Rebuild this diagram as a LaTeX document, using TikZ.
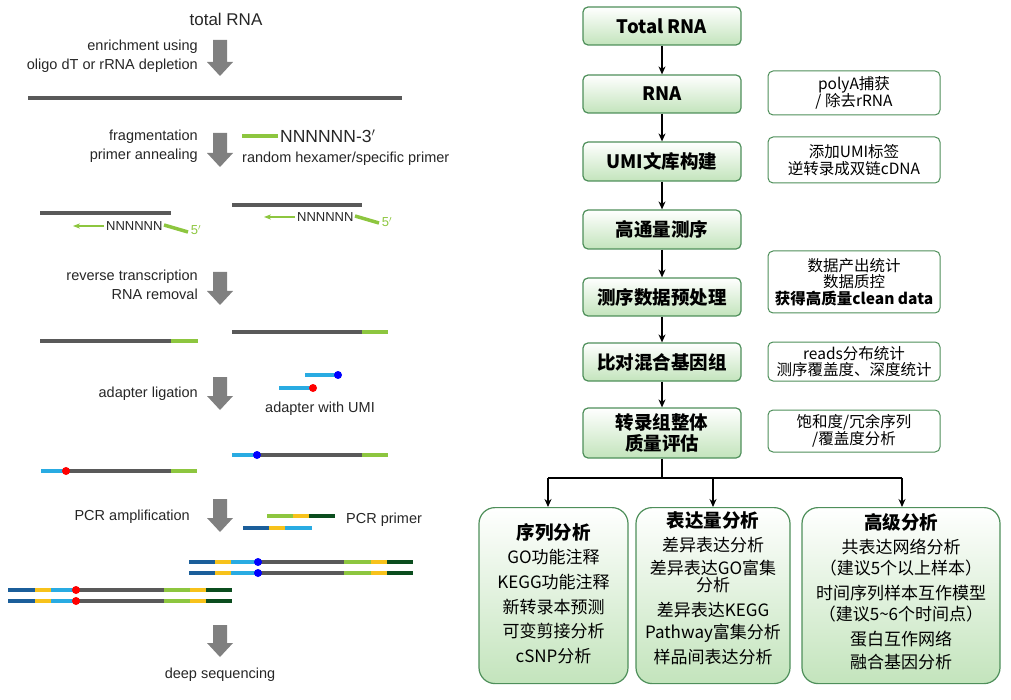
\documentclass[tikz,border=0pt]{standalone}
\usepackage{fontspec}
\setmainfont{Liberation Sans}
\newfontfamily\cjk{Noto Sans CJK SC}
\usetikzlibrary{arrows.meta,calc}
\definecolor{dgray}{HTML}{595959}
\definecolor{agray}{HTML}{808080}
\definecolor{lgreen}{HTML}{8DC63F}
\definecolor{cyanb}{HTML}{29ABE2}
\definecolor{navyb}{HTML}{1B5E9A}
\definecolor{yel}{HTML}{F7C21B}
\definecolor{dgreen}{HTML}{0B4D1E}
\definecolor{bord}{HTML}{4E8F5A}
\definecolor{gbot}{HTML}{C3E4BC}
\newcommand{\garrow}[3]{\fill[agray] (#1-7,#2) -- (#1+7,#2) -- (#1+7,#3-14) -- (#1+13,#3-14) -- (#1,#3) -- (#1-13,#3-14) -- (#1-7,#3-14) -- cycle;}
\begin{document}
\begin{tikzpicture}[x=1pt,y=-1pt,
  lt/.style={font=\fontsize{14.5}{17}\selectfont, text=black!85, inner sep=0pt},
  strand/.style={line width=3.5pt},
  mbox/.style={draw=bord, line width=1.2pt, rounded corners=5pt, top color=white, bottom color=gbot, minimum width=158pt, align=center, font=\cjk\bfseries\fontsize{18.5}{21}\selectfont},
  sbox/.style={draw=bord, line width=1pt, rounded corners=5pt, fill=white, minimum width=172pt, align=center, font=\cjk\fontsize{15.5}{16.5}\selectfont, inner sep=2pt},
  bbox/.style={draw=bord, line width=1.2pt, rounded corners=16pt, top color=white, bottom color=gbot, align=center, anchor=north},
  conn/.style={-{Stealth[length=8pt,width=7pt]}, line width=1.2pt}]
\useasboundingbox (0,0) rectangle (1011,700);
% ---------- left ----------
\node[lt, font=\fontsize{17}{19}\selectfont] (t0) at (226,19) {total RNA};
\node[lt, align=right, anchor=east] (t1) at (198,56) {enrichment using\\[2pt]oligo dT or rRNA depletion};
\garrow{220}{40}{76}
\draw[strand, dgray] (28,98) -- (402,98);
\node[lt, align=right, anchor=east] (t2) at (198,146) {fragmentation\\[2pt]primer annealing};
\garrow{220}{133}{167}
\draw[strand, lgreen] (242,136) -- (278,136);
\node[lt, anchor=west, font=\fontsize{17.5}{19}\selectfont] (nn) at (280,136) {NNNNNN-3$'$};
\node[lt, anchor=west] (rh) at (242,159) {random hexamer/specific primer};
% annealed
\draw[strand, dgray] (40,213) -- (171,213);
\draw[lgreen, line width=1.2pt, -{Stealth[length=7pt]}] (104,226) -- (73,226);
\node[lt, anchor=west, font=\fontsize{13}{14}\selectfont] (n1) at (106,226) {NNNNNN};
\draw[strand, lgreen] (164,225) -- (188,232);
\node[lt, text=lgreen, font=\fontsize{13}{14}\selectfont] (f1) at (196,230) {5$'$};
\draw[strand, dgray] (232,205) -- (362,205);
\draw[lgreen, line width=1.2pt, -{Stealth[length=7pt]}] (295,217) -- (264,217);
\node[lt, anchor=west, font=\fontsize{13}{14}\selectfont] (n2) at (297,217) {NNNNNN};
\draw[strand, lgreen] (355,216) -- (379,223);
\node[lt, text=lgreen, font=\fontsize{13}{14}\selectfont] (f2) at (387,222) {5$'$};
\node[lt, align=right, anchor=east] (t3) at (198,285) {reverse transcription\\[2pt]RNA removal};
\garrow{220}{272}{305}
\draw[strand, dgray] (40,341) -- (171,341); \draw[strand, lgreen] (171,341) -- (198,341);
\draw[strand, dgray] (232,332) -- (362,332); \draw[strand, lgreen] (362,332) -- (388,332);
\node[lt, anchor=east] (t4) at (198,394) {adapter ligation};
\garrow{220}{377}{410}
\draw[strand, cyanb] (305,375) -- (338,375); \fill[blue] (338,375) circle (4pt);
\draw[strand, cyanb] (279,388) -- (313,388); \fill[red] (313,388) circle (4pt);
\node[lt] (au) at (320,409) {adapter with UMI};
\draw[strand, cyanb] (232,455) -- (257,455); \draw[strand, dgray] (257,455) -- (362,455); \draw[strand, lgreen] (362,455) -- (388,455); \fill[blue] (257,455) circle (4pt);
\draw[strand, cyanb] (41,471) -- (66,471); \draw[strand, dgray] (66,471) -- (171,471); \draw[strand, lgreen] (171,471) -- (197,471); \fill[red] (66,471) circle (4pt);
\node[lt, anchor=east] (t5) at (190,517) {PCR amplification};
\garrow{220}{499}{532}
\draw[strand, lgreen] (267,516) -- (293,516); \draw[strand, yel] (293,516) -- (309,516); \draw[strand, dgreen] (309,516) -- (335,516);
\draw[strand, navyb] (243,528) -- (269,528); \draw[strand, yel] (269,528) -- (285,528); \draw[strand, cyanb] (285,528) -- (312,528);
\node[lt, anchor=west] (pp) at (346,520) {PCR primer};
\foreach \yy in {562,573}{
 \draw[strand, navyb] (189,\yy) -- (215,\yy); \draw[strand, yel] (215,\yy) -- (231,\yy); \draw[strand, cyanb] (231,\yy) -- (258,\yy);
 \draw[strand, dgray] (258,\yy) -- (344,\yy); \draw[strand, lgreen] (344,\yy) -- (371,\yy); \draw[strand, yel] (371,\yy) -- (387,\yy); \draw[strand, dgreen] (387,\yy) -- (413,\yy);
 \fill[blue] (258,\yy) circle (4pt);}
\foreach \yy in {590,601}{
 \draw[strand, navyb] (8,\yy) -- (35,\yy); \draw[strand, yel] (35,\yy) -- (51,\yy); \draw[strand, cyanb] (51,\yy) -- (76,\yy);
 \draw[strand, dgray] (76,\yy) -- (164,\yy); \draw[strand, lgreen] (164,\yy) -- (190,\yy); \draw[strand, yel] (190,\yy) -- (206,\yy); \draw[strand, dgreen] (206,\yy) -- (232,\yy);
 \fill[red] (76,\yy) circle (4pt);}
\garrow{220}{625}{657}
\node[lt] (ds) at (220,675) {deep sequencing};
% ---------- right ----------
\node[mbox, minimum height=38pt] (b1) at (662,26) {Total RNA};
\node[mbox, minimum height=38pt] (b2) at (662,94) {RNA};
\node[mbox, minimum height=39pt] (b3) at (662,161.5) {UMI文库构建};
\node[mbox, minimum height=39pt] (b4) at (662,229.5) {高通量测序};
\node[mbox, minimum height=38pt] (b5) at (662,297) {测序数据预处理};
\node[mbox, minimum height=38pt] (b6) at (662,362) {比对混合基因组};
\node[mbox, minimum height=50pt, inner sep=1pt, font=\cjk\bfseries\fontsize{18.5}{21}\selectfont] (b7) at (662,433) {转录组整体\\质量评估};
\foreach \a/\b in {b1/b2,b2/b3,b3/b4,b4/b5,b5/b6,b6/b7} \draw[conn] (\a) -- (\b);
\node[sbox, minimum height=44pt] (s1) at (854,93) {polyA捕获\\/ 除去rRNA};
\node[sbox, minimum height=46pt] (s2) at (854,160) {添加UMI标签\\逆转录成双链cDNA};
\node[sbox, minimum height=62pt] (s3) at (854,282) {数据产出统计\\数据质控\\\textbf{获得高质量clean data}};
\node[sbox, minimum height=39pt] (s4) at (854,361.5) {reads分布统计\\测序覆盖度、深度统计};
\node[sbox, minimum height=42pt] (s5) at (854,431) {饱和度/冗余序列\\/覆盖度分析};
\node[bbox, minimum width=149pt, minimum height=176pt] (c1) at (553.5,507) {};
\node[bbox, minimum width=154pt, minimum height=176pt] (c2) at (713,507) {};
\node[bbox, minimum width=198pt, minimum height=176pt] (c3) at (901,507) {};
\node[align=center, font=\cjk\fontsize{17}{24.6}\selectfont, anchor=north, inner sep=0pt] (c1t) at (553.5,523) {\textbf{\fontsize{18.5}{24.6}\selectfont 序列分析}\\GO功能注释\\KEGG功能注释\\新转录本预测\\可变剪接分析\\cSNP分析};
\node[align=center, font=\cjk\fontsize{17}{22}\selectfont, anchor=north, inner sep=0pt] (c2t) at (713,511) {\textbf{\fontsize{18.5}{22}\selectfont 表达量分析}\\[2pt]差异表达分析\\[1pt]差异表达GO富集\\[-5pt]分析\\[3pt]差异表达KEGG\\Pathway富集分析\\[3pt]样品间表达分析};
\node[align=center, font=\cjk\fontsize{17}{21}\selectfont, anchor=north, inner sep=0pt] (c3t) at (901,513) {\textbf{\fontsize{18.5}{21}\selectfont 高级分析}\\[3pt]共表达网络分析\\（建议5个以上样本）\\[4pt]时间序列样本互作模型\\（建议5\textasciitilde6个时间点）\\[4pt]蛋白互作网络\\[2pt]融合基因分析};
\coordinate (j) at (662,478);
\coordinate (jl) at (548,478);
\coordinate (jr) at (902,478);
\draw[line width=1.2pt] (b7) -- (j);
\draw[line width=1.2pt] (jl) -- (jr);
\draw[conn] (jl) -- (jl|-c1.north);
\draw[conn] (713,478) -- (c2.north);
\draw[conn] (jr) -- (jr|-c3.north);
\end{tikzpicture}
\end{document}
